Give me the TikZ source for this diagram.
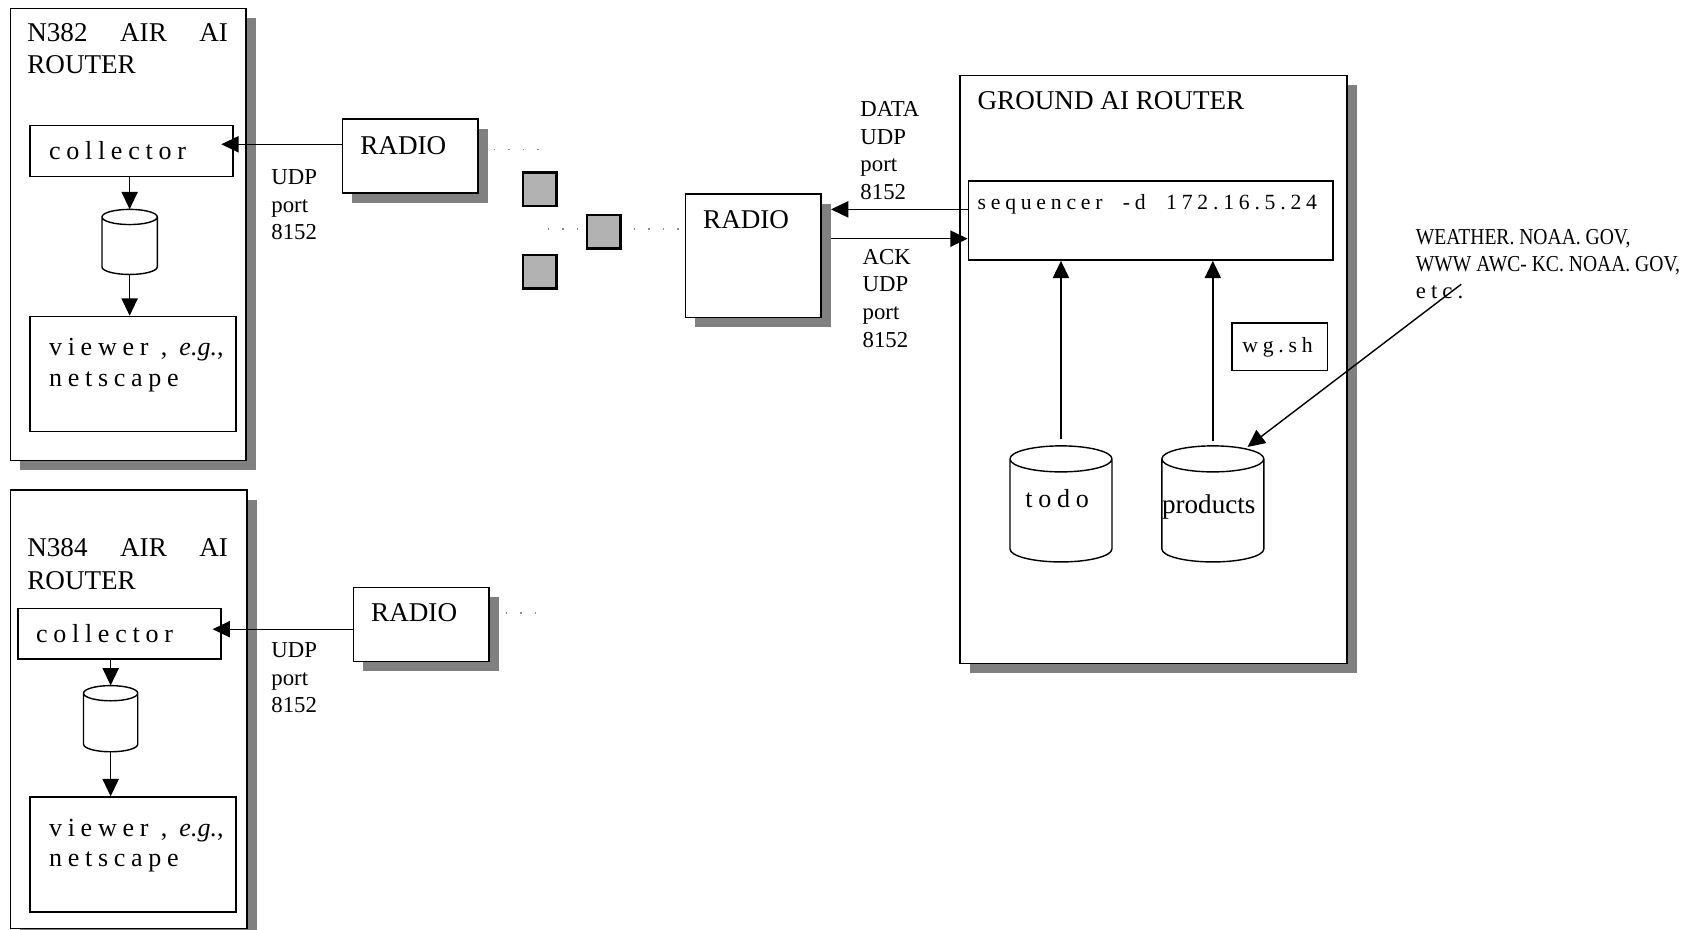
\documentclass[tikz,border=0pt]{standalone}
\usepackage{fontspec}
\setmainfont{Liberation Serif}
\newfontfamily\spaced[LetterSpace=22]{Liberation Serif}
\newfontfamily\narrow[FakeStretch=0.86]{Liberation Serif}
\usetikzlibrary{arrows.meta,shadows}

% cylinder: left, right, top, bottom, x radius, y radius
\newcommand\drum[6]{%
  \draw[line width=1.3pt, fill=white]
    (#1,#3+#6) -- (#1,#4-#6)
    arc[start angle=180, end angle=360, x radius=#5pt, y radius=#6pt]
    -- (#2,#3+#6)
    arc[start angle=0, end angle=180, x radius=#5pt, y radius=#6pt] -- cycle
    (#1,#3+#6) arc[start angle=180, end angle=360, x radius=#5pt, y radius=#6pt];}

% multi-line text nodes are placed at the baseline of their last line
\tikzset{
  frame/.style={draw, fill=white, line width=1.4pt, inner sep=0pt, anchor=north west,
    drop shadow={shadow xshift=9pt, shadow yshift=-9pt, fill=black!50, opacity=1}},
  plainbox/.style={draw, fill=white, line width=1.4pt, inner sep=0pt, anchor=north west},
  packet/.style={draw, line width=2pt, fill=black!30, inner sep=0pt, anchor=north west,
    minimum size=31pt},
  txt/.style={anchor=base west, inner sep=0pt, align=left},
  big/.style={font=\fontsize{25}{30}\selectfont},
  small/.style={font=\fontsize{21}{25.5}\selectfont},
  spc/.style={font={\spaced\fontsize{24}{28}\selectfont}},
  flow/.style={line width=1.3pt, -{Triangle[length=16pt,width=15pt]}},
  radiolink/.style={draw=black!45, line width=1.4pt, dash pattern=on 1.4pt off 12pt},
  hole/.style={inner sep=0pt},
}

\begin{document}
\begin{tikzpicture}[x=1pt,y=-1pt]
\useasboundingbox (0,0) rectangle (1568,857);

% ---------------- aircraft N382 ----------------
\node[frame, minimum width=217pt, minimum height=417pt] (n382) at (9,7) {};
\node[txt, big] (t382) at (25,68) {\makebox[185pt][s]{N382 AIR AI}\\ROUTER};
\node[plainbox, minimum width=187pt, minimum height=47pt] (coll1) at (27,115) {};
\node[txt, spc] (tcoll1) at (45,147) {collector};
\drum{94}{145}{193}{253}{25.5}{7}
\node[hole, minimum width=51pt, minimum height=60pt] (db1) at (119.5,223) {};
\node[plainbox, minimum width=190pt, minimum height=106pt] (view1) at (27,291) {};
\node[txt, spc] (tview1) at (45,356) {viewer , {\rmfamily\itshape e.g.},\\netscape};
\draw[flow] (db1.north |- coll1.south) -- (db1.north);
\draw[flow] (db1.south) -- (db1.south |- view1.north);

\node[frame, minimum width=125pt, minimum height=68pt] (radio1) at (315,109) {};
\node[txt, big] (tradio1) at (332,142) {RADIO};
\coordinate (in1) at (204,133);
\draw[flow] (radio1.west |- in1) -- (in1);
\node[txt, small] (udp1) at (250,221) {UDP\\port\\8152};

% ---------------- aircraft N384 ----------------
\node[frame, minimum width=218pt, minimum height=404pt] (n384) at (9,451) {};
\node[txt, big] (t384) at (25,543) {\makebox[185pt][s]{N384 AIR AI}\\ROUTER};
\node[plainbox, minimum width=187pt, minimum height=47pt] (coll2) at (16,560) {};
\node[txt, spc] (tcoll2) at (33,592) {collector};
\drum{77}{127}{632}{693}{25}{7}
\node[hole, minimum width=50pt, minimum height=61pt] (db2) at (102,662.5) {};
\node[plainbox, minimum width=190pt, minimum height=106pt] (view2) at (27,734) {};
\node[txt, spc] (tview2) at (45,799) {viewer , {\rmfamily\itshape e.g.},\\netscape};
\draw[flow] (db2.north |- coll2.south) -- (db2.north);
\draw[flow] (db2.south) -- (db2.south |- view2.north);

\node[frame, minimum width=125pt, minimum height=68pt] (radio2) at (325,541) {};
\node[txt, big] (tradio2) at (342,573) {RADIO};
\coordinate (in2) at (196,580);
\draw[flow] (radio2.west |- in2) -- (in2);
\node[txt, small] (udp2) at (250,657) {UDP\\port\\8152};

% ---------------- radio link and packets ----------------
\coordinate (l1a) at (455,138);  \coordinate (l1b) at (497,138);
\coordinate (l2a) at (505,211);  \coordinate (l2b) at (534,211);
\coordinate (l3a) at (584,211);  \coordinate (l3b) at (626,211);
\coordinate (l4a) at (466,565);  \coordinate (l4b) at (497,565);
\draw[radiolink] (l1a) -- (l1b);
\draw[radiolink] (l2a) -- (l2b);
\draw[radiolink] (l3a) -- (l3b);
\draw[radiolink] (l4a) -- (l4b);
\node[packet] (p1) at (481,158) {};
\node[packet] (p2) at (540,197) {};
\node[packet] (p3) at (481,234) {};

% ---------------- ground side ----------------
\node[frame, minimum width=125pt, minimum height=114pt] (radio3) at (631,178) {};
\node[txt, big] (tradio3) at (648,211) {RADIO};

\node[frame, minimum width=357pt, minimum height=542pt] (ground) at (884,69) {};
\node[txt, big] (tground) at (901,101) {GROUND AI ROUTER};
\node[plainbox, minimum width=336pt, minimum height=73pt] (seq) at (892,166) {};
\node[txt, font={\spaced\fontsize{20}{24}\selectfont}] (tseq) at (901,193) {sequencer\ \ -d\ \ 172.16.5.24};

\node[txt, small] (data) at (793,184) {DATA\\UDP\\port\\8152};
\node[txt, small] (ack) at (795,320) {ACK\\UDP\\port\\8152};
\coordinate (dataend) at (766,193);
\coordinate (ackstart) at (766,220);
\draw[flow] (seq.west |- dataend) -- (dataend);
\draw[flow] (ackstart) -- (seq.west |- ackstart);

\node[plainbox, minimum width=88pt, minimum height=44pt] (wgsh) at (1135,297) {};
\node[txt, font={\spaced\fontsize{20}{24}\selectfont}] (twgsh) at (1145,325) {wg.sh};

\drum{931}{1025}{411}{518}{47}{12}
\node[hole, minimum width=94pt, minimum height=107pt] (todo) at (978,464.5) {};
\node[txt, spc] (ttodo) at (945,468) {todo};
\drum{1071}{1165}{411}{518}{47}{12}
\node[hole, minimum width=94pt, minimum height=107pt] (prod) at (1118,464.5) {};
\node[txt, big] (tprod) at (1071,473) {products};

\draw[flow] ([yshift=6pt]todo.north) -- (todo.north |- seq.south);
\draw[flow] ([yshift=4pt]prod.north) -- (prod.north |- seq.south);

\node[txt, font={\narrow\fontsize{21}{25}\selectfont}] (web) at (1305,275)
  {WEATHER. NOAA. GOV,\\WWW AWC- KC. NOAA. GOV,\\{\spaced etc.}};
\coordinate (webfrom) at (1347,262);
\coordinate (prodin) at (1150,412);
\draw[flow] (webfrom) -- (prodin);
\end{tikzpicture}
\end{document}
